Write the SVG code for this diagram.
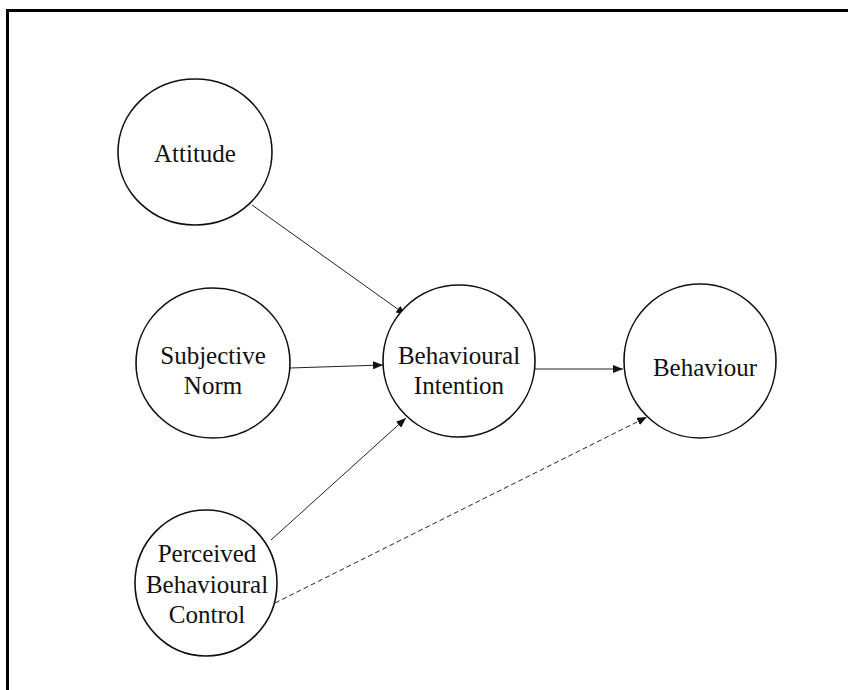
<svg xmlns="http://www.w3.org/2000/svg" width="848" height="690" viewBox="0 0 848 690">
<style>
.node{fill:#fff;stroke:#111;stroke-width:1.6}
.lbl{font-family:"Liberation Serif","Times New Roman",serif;font-size:25px;fill:#111;text-anchor:middle}
.edge{stroke:#222;stroke-width:1;fill:none;marker-end:url(#ah)}
.dash{stroke-dasharray:5,3}
</style>
<defs>
<marker id="ah" viewBox="0 0 10 8" refX="10" refY="4" markerWidth="10" markerHeight="8" markerUnits="userSpaceOnUse" orient="auto">
<path d="M0,0 L10,4 L0,8 z" fill="#111"/>
</marker>
</defs>
<rect x="0" y="0" width="848" height="690" fill="#fff"/>
<path d="M7.5,700 V10.5 H860" fill="none" stroke="#000" stroke-width="3"/>
<g id="connectors">
<line class="edge" x1="252" y1="205" x2="406" y2="315"/>
<line class="edge" x1="290" y1="368" x2="383" y2="365"/>
<line class="edge" x1="271" y1="540" x2="406" y2="418"/>
<line class="edge" x1="535" y1="369" x2="623" y2="369"/>
<line class="edge dash" x1="275" y1="603" x2="647" y2="417"/>
</g>
<g id="attitude">
<ellipse class="node" cx="195" cy="152" rx="77" ry="73"/>
<text class="lbl" x="195" y="162">Attitude</text>
</g>
<g id="subjective-norm">
<ellipse class="node" cx="213" cy="363" rx="77" ry="75"/>
<text class="lbl" x="213" y="364">Subjective</text>
<text class="lbl" x="213" y="394">Norm</text>
</g>
<g id="behavioural-intention">
<ellipse class="node" cx="459" cy="361" rx="76" ry="76"/>
<text class="lbl" x="459" y="364">Behavioural</text>
<text class="lbl" x="459" y="394">Intention</text>
</g>
<g id="behaviour">
<ellipse class="node" cx="700" cy="361" rx="76" ry="77"/>
<text class="lbl" x="705" y="376">Behaviour</text>
</g>
<g id="perceived-behavioural-control">
<ellipse class="node" cx="206" cy="583" rx="71" ry="73"/>
<text class="lbl" x="207" y="562">Perceived</text>
<text class="lbl" x="207" y="593">Behavioural</text>
<text class="lbl" x="207" y="623">Control</text>
</g>
</svg>
